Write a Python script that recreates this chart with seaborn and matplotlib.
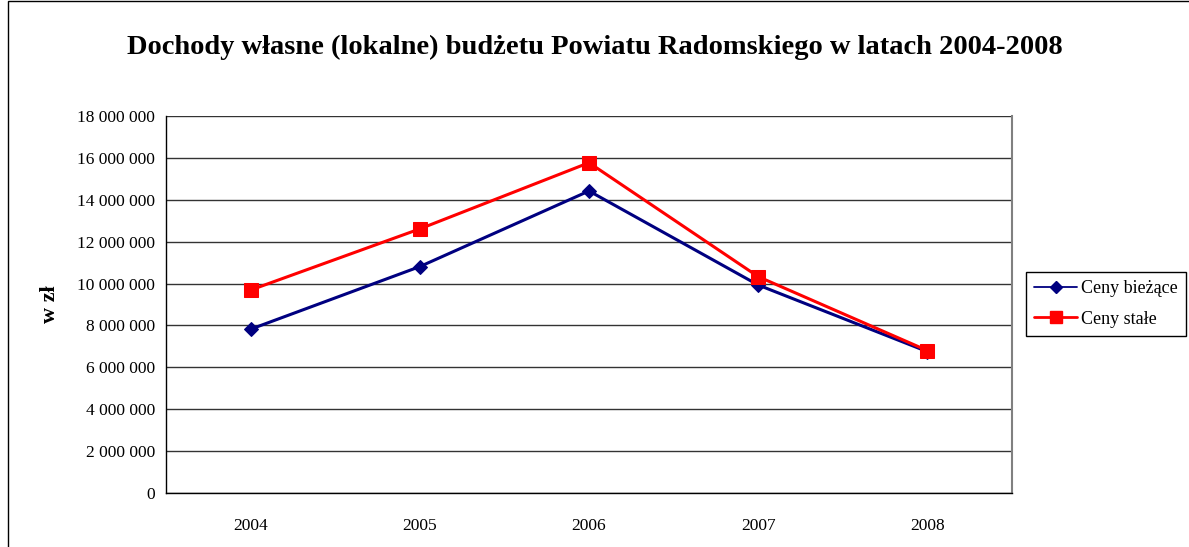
import numpy as np
import pandas as pd
import seaborn as sns
import matplotlib.pyplot as plt
from matplotlib.ticker import FuncFormatter, FixedLocator
from matplotlib.patches import Rectangle
from matplotlib.lines import Line2D

# Values (PLN)
years = ["2004", "2005", "2006", "2007", "2008"]
ceny_biezace = [7820000, 10810000, 14420000, 9930000, 6750000]
ceny_stale = [9690000, 12610000, 15770000, 10330000, 6800000]

sns.set_style("white")
plt.rcParams["font.family"] = ["Liberation Serif", "DejaVu Serif"]
plt.rcParams.update({"text.color": "black", "axes.labelcolor": "black",
                     "xtick.color": "black", "ytick.color": "black"})

fig = plt.figure(figsize=(11.89, 5.47), dpi=100)
ax = fig.add_axes([166 / 1189, 1 - 493 / 547, 846 / 1189, 377 / 547])

sns.lineplot(x=years, y=ceny_biezace, ax=ax, color="#000080", marker="D",
             markersize=7, markeredgecolor="#000080", linewidth=2.2,
             legend=False, sort=False)
sns.lineplot(x=years, y=ceny_stale, ax=ax, color="#ff0000", marker="s",
             markersize=10, markeredgecolor="#ff0000", linewidth=2.2,
             legend=False, sort=False)

ax.set_xlim(-0.5, 4.5)
ax.set_ylim(0, 18000000)
ax.set_yticks(np.arange(0, 18000001, 2000000))
ax.yaxis.set_major_formatter(FuncFormatter(lambda v, p: f"{int(v):,}".replace(",", " ")))
ax.grid(axis="y", color="#333333", linewidth=1)
ax.grid(axis="x", visible=False)

# category ticks between years
ax.xaxis.set_minor_locator(FixedLocator(np.arange(-0.5, 5, 1)))
ax.tick_params(axis="x", which="major", length=0, pad=18, labelsize=12.5)
ax.tick_params(axis="x", which="minor", length=5, width=1, color="black", direction="out")
ax.tick_params(axis="y", length=5, width=1, color="black", direction="out", labelsize=12.5, pad=3)

for s in ["left", "bottom"]:
    ax.spines[s].set_color("black")
    ax.spines[s].set_linewidth(1)
ax.spines["top"].set_visible(False)
ax.spines["right"].set_color("#808080")
ax.spines["right"].set_linewidth(1.5)

ax.set_xlabel("")
ax.set_ylabel("w zł", fontsize=16, fontweight="bold", labelpad=12)

fig.suptitle("Dochody własne (lokalne) budżetu Powiatu Radomskiego w latach 2004-2008",
             x=0.5, y=1 - 47 / 547, va="center", fontsize=20.5, fontweight="bold")

handles = [
    Line2D([], [], color="#000080", marker="D", markersize=6, linewidth=1.3),
    Line2D([], [], color="#ff0000", marker="s", markersize=8, linewidth=2),
]
labels = ["Ceny bieżące", "Ceny stałe"]
leg = fig.legend(handles, labels, loc="center left",
                 bbox_to_anchor=(1026 / 1189, 1 - 304 / 547), fontsize=13,
                 frameon=True, fancybox=False, framealpha=1, edgecolor="black",
                 handlelength=2.4, borderpad=0.45, labelspacing=0.75,
                 handletextpad=0.2, borderaxespad=0)
leg.get_frame().set_linewidth(1)

# outer chart frame
fig.add_artist(Rectangle((8 / 1189, -0.01), 1.0, 1 - 1 / 547 + 0.01,
                         transform=fig.transFigure, fill=False,
                         edgecolor="black", linewidth=1))

fig.savefig("out.png", dpi=100)
